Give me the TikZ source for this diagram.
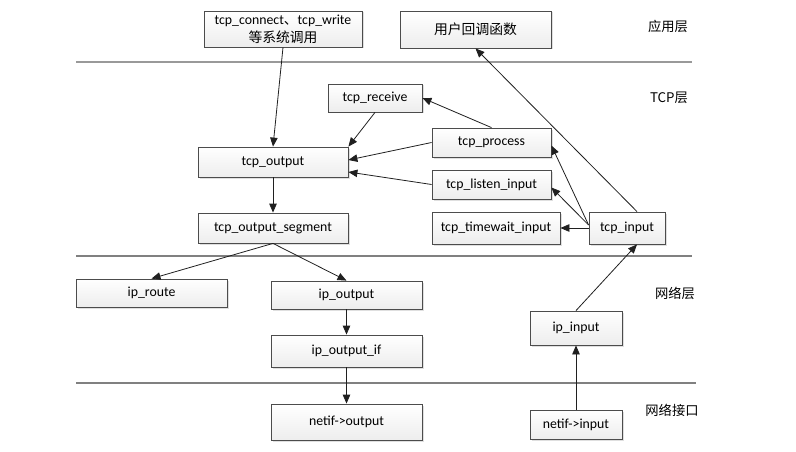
\documentclass[tikz,border=0pt]{standalone}
\usepackage{fontspec}
\setmainfont{Carlito}
\newfontfamily\cjk{Noto Sans CJK SC}
\usetikzlibrary{arrows.meta,shadows}

\begin{document}
\begin{tikzpicture}[x=1pt, y=-1pt,
  boxstyle/.style={
        draw=gray!60!black,
        line width=0.8pt,
        top color=white,
        bottom color=gray!14,
        drop shadow={shadow xshift=1.5pt, shadow yshift=-1.5pt, opacity=0.25},
        minimum width=150pt,
        minimum height=30pt,
        inner sep=0pt,
        align=center,
        font=\fontsize{13.8}{17}\selectfont
  },
  arrowstyle/.style={
        draw=gray!25!black,
        line width=0.8pt,
        -{Triangle[length=9pt, width=7.5pt]}
  },
  layerline/.style={draw=gray, line width=1.2pt},
  layerlabel/.style={font=\cjk\fontsize{13.3}{15}\selectfont}
]

    \useasboundingbox (0,0) rectangle (796,452);

    % layer separators
    \coordinate (L1a) at (76,62);   \coordinate (L1b) at (692,62);
    \coordinate (L2a) at (76,256);  \coordinate (L2b) at (692,256);
    \coordinate (L3a) at (76,383);  \coordinate (L3b) at (696,383);
    \draw[layerline, line width=1.6pt, gray!80] (L1a) -- (L1b);
    \draw[layerline] (L2a) -- (L2b);
    \draw[layerline] (L3a) -- (L3b);

    \node[layerlabel] (app_layer) at (668,26) {应用层};
    \node[layerlabel] (tcp_layer) at (669,98) {TCP层};
    \node[layerlabel] (ip_layer) at (675,293) {网络层};
    \node[layerlabel] (if_layer) at (672,410) {网络接口};

    % application layer
    \node[boxstyle, minimum width=158pt, minimum height=36pt] (sys_call) at (283,29)
        {tcp\_connect{\cjk 、}tcp\_write\\[1pt]{\cjk 等系统调用}};
    \node[boxstyle, minimum width=151pt, minimum height=37pt] (user_cb) at (475.5,29.5)
        {\cjk 用户回调函数};

    % TCP layer
    \node[boxstyle, minimum width=94pt, minimum height=28pt] (tcp_receive) at (375,98) {tcp\_receive};
    \node[boxstyle] (tcp_output) at (273,162) {tcp\_output};
    \node[boxstyle, minimum width=119pt, minimum height=29pt] (tcp_process) at (491.5,142.5) {tcp\_process};
    \node[boxstyle, minimum width=119pt, minimum height=29pt] (tcp_listen) at (491.5,184.5) {tcp\_listen\_input};
    \node[boxstyle, minimum width=128pt, minimum height=32pt] (tcp_timewait) at (496,228) {tcp\_timewait\_input};
    \node[boxstyle, minimum width=76pt, minimum height=32pt] (tcp_input) at (627,228) {tcp\_input};
    \node[boxstyle] (tcp_segment) at (273,228) {tcp\_output\_segment};

    % network layer
    \node[boxstyle, minimum width=151pt, minimum height=28pt] (ip_route) at (151.5,293) {ip\_route};
    \node[boxstyle, minimum width=151pt, minimum height=28pt] (ip_output) at (346.5,295) {ip\_output};
    \node[boxstyle, minimum width=151pt, minimum height=32pt] (ip_output_if) at (346.5,351) {ip\_output\_if};
    \node[boxstyle, minimum width=92pt, minimum height=34pt] (ip_input) at (576,328) {ip\_input};

    % interface layer
    \node[boxstyle, minimum width=151pt, minimum height=36pt] (netif_out) at (346.5,422) {netif->output};
    \node[boxstyle, minimum width=92pt, minimum height=29pt] (netif_in) at (576,424.5) {netif->input};

    % output path
    \draw[arrowstyle] (sys_call.south) -- (tcp_output.north);
    \draw[arrowstyle] (tcp_receive.south) -- (tcp_output.north east);
    \draw[arrowstyle] (tcp_process.west) -- ([yshift=2pt]tcp_output.east);
    \draw[arrowstyle] (tcp_listen.west) -- ([yshift=-10pt]tcp_output.east);
    \draw[arrowstyle] (tcp_process.north) -- (tcp_receive.east);
    \draw[arrowstyle] (tcp_output.south) -- (tcp_segment.north);
    \draw[arrowstyle] (tcp_segment.south) -- (ip_route.north);
    \draw[arrowstyle] (tcp_segment.south) -- (ip_output.north);
    \draw[arrowstyle] (ip_output.south) -- (ip_output_if.north);
    \draw[arrowstyle] (ip_output_if.south) -- (netif_out.north);

    % input path
    \draw[arrowstyle] (netif_in.north) -- (ip_input.south);
    \draw[arrowstyle] (ip_input.north) -- ([xshift=10pt]tcp_input.south);
    \draw[arrowstyle] (tcp_input.west) -- (tcp_timewait.east);
    \draw[arrowstyle] ([yshift=3pt]tcp_input.west) -- ([yshift=-3pt]tcp_listen.east);
    \draw[arrowstyle] ([yshift=3pt]tcp_input.west) -- ([yshift=-3pt]tcp_process.east);
    \draw[arrowstyle] ([xshift=10pt]tcp_input.north) -- (user_cb.south);
\end{tikzpicture}
\end{document}
